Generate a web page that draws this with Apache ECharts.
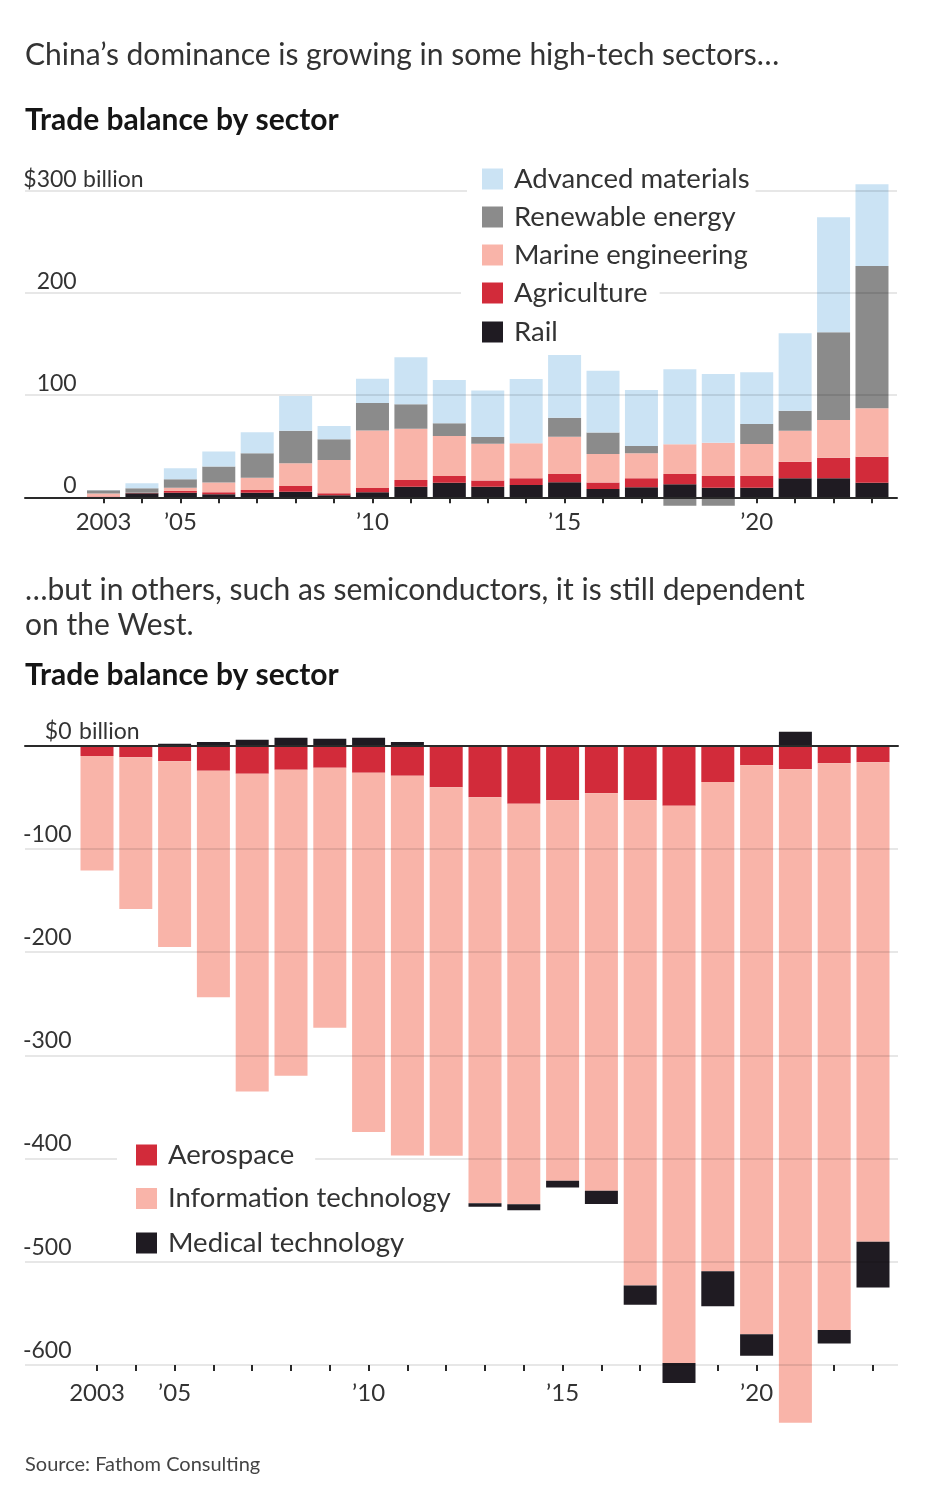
<!DOCTYPE html>
<html><head><meta charset="utf-8">
<script src="https://cdn.jsdelivr.net/npm/echarts@6/dist/echarts.min.js"></script>
<style>html,body{margin:0;padding:0;background:#fff}#c{width:927px;height:1487px}</style>
</head><body><div id="c"></div>
<script>
// ---------- data ----------
const years = [2003,2004,2005,2006,2007,2008,2009,2010,2011,2012,2013,2014,2015,2016,2017,2018,2019,2020,2021,2022,2023];
const xTickLabels = ['2003','','\u201905','','','','','\u201910','','','','','\u201915','','','','','\u201920','','',''];

// Top chart ($ billion)
const rail        = [0.3, 3.9, 4.5, 3.0, 4.5, 5.5, 2.0, 5.0, 10.4, 14.3, 10.4, 12.0, 14.7, 8.0, 9.8, 12.7, 9.4, 9.4, 18.6, 18.6, 14.3];
const agriculture = [0.5, 0.3, 1.7, 2.0, 2.6, 5.5, 2.0, 4.0, 6.5, 6.5, 6.0, 6.6, 8.1, 6.6, 8.8, 10.1, 11.4, 11.4, 16.2, 20.1, 25.4];
const marine      = [2.8, 0.3, 3.2, 9.4, 12.1, 22.3, 32.5, 56.4, 50.2, 39.2, 36.0, 34.2, 36.5, 27.7, 24.4, 29.1, 32.6, 31.4, 30.4, 36.9, 47.4];
const renewable   = [3.3, 4.4, 8.2, 15.7, 23.8, 31.9, 20.2, 26.8, 23.9, 12.4, 6.5, 0, 18.6, 21.2, 7.2, -8.2, -8.2, 19.5, 19.5, 85.8, 139.2];
const advanced    = [0.3, 4.8, 10.8, 14.6, 20.6, 33.9, 13.1, 23.8, 46.0, 42.4, 45.5, 63.0, 61.3, 60.3, 54.8, 73.3, 67.2, 50.6, 75.8, 112.6, 80.0];
const topTicks = [0, 100, 200, 300];

// Bottom chart ($ billion)
const aerospace = [-10, -11.3, -15.1, -24.2, -27.1, -23.3, -21.3, -26.2, -29.1, -40.3, -50, -56.2, -52.9, -46.1, -52.9, -58.1, -35.2, -19, -22.9, -17.1, -16.1];
const infoTech  = [-111, -147, -180, -219.6, -308, -296.5, -252, -348, -368, -357, -393.4, -388, -368.6, -385, -470, -540, -474, -551.3, -633, -549, -464.5];
const medical   = [0, 0, 2, 3.6, 5.8, 7.8, 6.8, 7.8, 3.6, 0, -3.3, -5.8, -6.5, -13, -18.7, -19.3, -34, -20.8, 13.6, -13, -44.2];
const bottomTicks = [-600, -500, -400, -300, -200, -100, 0];

// ---------- styles ----------
const FONT = 'Lato';
const C = {
  advanced: '#cbe3f4', renewable: '#8b8b8b', marine: '#f9b4a9', agri: '#d22b3a', rail: '#1f1b22',
  text: '#333333', head: '#151515', grid: 'rgba(0,0,0,0.13)', axis: '#2a2a2a'
};

const chart = echarts.init(document.getElementById('c'), null, {renderer: 'canvas'});

function barSeries(name, data, color, xi, yi, stack) {
  return {
    name, type: 'bar', data, xAxisIndex: xi, yAxisIndex: yi, stack,
    barWidth: 33, clip: false, itemStyle: {color}, emphasis: {disabled: true}, z: 2
  };
}

const legendBase = {
  orient: 'vertical', icon: 'rect', itemWidth: 21, itemHeight: 21, selectedMode: false,
  textStyle: {fontFamily: FONT, fontSize: 27.5, color: C.text, lineHeight: 26, padding: [0, 0, 0, 6]},
  z: 6
};

const option = {
  animation: false,
  backgroundColor: '#fff',
  textStyle: {fontFamily: FONT},
  grid: [
    {left: 25, right: 30, top: 190.7, height: 306.6, outerBoundsMode: 'none', containLabel: false},
    {left: 84.3, right: 35.8, top: 190.7, height: 306.6, outerBoundsMode: 'none', containLabel: false},
    {left: 25, right: 29, top: 745.7, height: 619.3, outerBoundsMode: 'none', containLabel: false},
    {left: 77.6, right: 34.6, top: 745.7, height: 619.3, outerBoundsMode: 'none', containLabel: false}
  ],
  xAxis: [
    {gridIndex: 0, type: 'value', min: 0, max: 1, position: 'bottom', z: 4,
     axisLine: {show: true, onZero: false, lineStyle: {color: C.axis, width: 2}},
     axisTick: {show: false}, axisLabel: {show: false}, splitLine: {show: false}},
    {gridIndex: 1, type: 'category', data: years, position: 'bottom',
     axisLine: {show: false, onZero: false},
     axisTick: {show: true, alignWithLabel: true, length: 6, interval: 0, lineStyle: {color: C.axis, width: 2}},
     axisLabel: {show: true, interval: 0, margin: 13, fontFamily: FONT, fontSize: 24, color: C.text,
       formatter: (v, i) => xTickLabels[i]},
     splitLine: {show: false}},
    {gridIndex: 2, type: 'value', min: 0, max: 1, position: 'top', z: 4,
     axisLine: {show: true, onZero: false, lineStyle: {color: C.axis, width: 2}},
     axisTick: {show: false}, axisLabel: {show: false}, splitLine: {show: false}},
    {gridIndex: 3, type: 'category', data: years, position: 'bottom',
     axisLine: {show: false, onZero: false},
     axisTick: {show: true, alignWithLabel: true, length: 6, interval: 0, lineStyle: {color: C.axis, width: 2}},
     axisLabel: {show: true, interval: 0, margin: 16, fontFamily: FONT, fontSize: 24, color: C.text,
       formatter: (v, i) => xTickLabels[i]},
     splitLine: {show: false}}
  ],
  yAxis: [
    {gridIndex: 0, type: 'value', min: topTicks[0], max: topTicks[topTicks.length - 1], interval: 100, z: 3,
     name: 'billion', nameLocation: 'end', nameGap: 0, nameMoveOverlap: false,
     nameTextStyle: {fontFamily: FONT, fontSize: 23, color: C.text, align: 'left', verticalAlign: 'bottom', padding: [0, 0, 0, 58]},
     axisLine: {show: false}, axisTick: {show: false},
     axisLabel: {inside: true, margin: 51.7, align: 'right', verticalAlign: 'bottom', fontFamily: FONT, fontSize: 23, color: C.text,
       formatter: v => (v === 300 ? '$300' : String(v))},
     splitLine: {show: true, lineStyle: {color: C.grid, width: 1.5}}},
    {gridIndex: 1, type: 'value', min: topTicks[0], max: topTicks[topTicks.length - 1], show: false},
    {gridIndex: 2, type: 'value', min: bottomTicks[0], max: bottomTicks[bottomTicks.length - 1], interval: 100, z: 3,
     name: 'billion', nameLocation: 'end', nameGap: 0, nameMoveOverlap: false,
     nameTextStyle: {fontFamily: FONT, fontSize: 23, color: C.text, align: 'left', verticalAlign: 'bottom', padding: [0, 0, 3, 54]},
     axisLine: {show: false}, axisTick: {show: false},
     axisLabel: {inside: true, margin: 46.5, align: 'right', verticalAlign: 'bottom', padding: [0, 0, 3, 0], fontFamily: FONT, fontSize: 23, color: C.text,
       formatter: v => (v === 0 ? '$0' : String(v))},
     splitLine: {show: true, lineStyle: {color: C.grid, width: 1.5}}},
    {gridIndex: 3, type: 'value', min: bottomTicks[0], max: bottomTicks[bottomTicks.length - 1], show: false}
  ],
  legend: [
    Object.assign({}, legendBase, {data: ['Advanced materials', 'Renewable energy', 'Marine engineering'],
      left: 467, top: 160, padding: [5, 6, 5, 15], itemGap: 10, backgroundColor: '#fff'}),
    Object.assign({}, legendBase, {data: ['Agriculture', 'Rail'],
      left: 461, top: 274, padding: [5, 12, 5, 21], itemGap: 11, backgroundColor: '#fff'}),
    Object.assign({}, legendBase, {data: ['Aerospace'],
      left: 117, top: 1136, padding: [5, 21, 5, 19], itemGap: 17.5, backgroundColor: '#fff'}),
    Object.assign({}, legendBase, {data: ['Information technology', 'Medical technology'],
      left: 136, top: 1184.5, padding: 0, itemGap: 16.5})
  ],
  series: [
    barSeries('Rail', rail, C.rail, 1, 1, 'top'),
    barSeries('Agriculture', agriculture, C.agri, 1, 1, 'top'),
    barSeries('Marine engineering', marine, C.marine, 1, 1, 'top'),
    barSeries('Renewable energy', renewable, C.renewable, 1, 1, 'top'),
    barSeries('Advanced materials', advanced, C.advanced, 1, 1, 'top'),
    barSeries('Aerospace', aerospace, C.agri, 3, 3, 'bot'),
    barSeries('Information technology', infoTech, C.marine, 3, 3, 'bot'),
    barSeries('Medical technology', medical, C.rail, 3, 3, 'bot')
  ],
  graphic: [
    {type: 'text', left: 25, top: 40, style: {text: 'China\u2019s dominance is growing in some high-tech sectors\u2026', font: '30px Lato', fill: C.text}},
    {type: 'text', left: 25, top: 105, style: {text: 'Trade balance by sector', font: 'bold 30px Lato', fill: C.head}},
    {type: 'text', left: 25, top: 573, style: {text: '\u2026but in others, such as semiconductors, it is still dependent\non the West.', font: '30px Lato', lineHeight: 35, fill: C.text}},
    {type: 'text', left: 25, top: 660, style: {text: 'Trade balance by sector', font: 'bold 30px Lato', fill: C.head}},
    {type: 'text', left: 25, top: 1455, style: {text: 'Source: Fathom Consulting', font: '20px Lato', fill: '#444'}}
  ]
};
chart.setOption(option);
</script></body></html>
